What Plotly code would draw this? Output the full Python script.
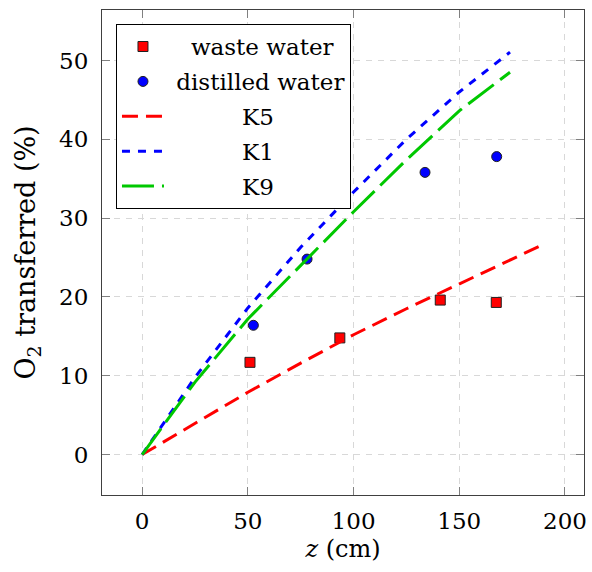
import plotly.graph_objects as go

# data
waste_z = [51.0, 93.5, 141.0, 167.5]
waste_o2 = [11.7, 14.8, 19.6, 19.3]

dist_z = [52.6, 78.0, 133.8, 167.7]
dist_o2 = [16.4, 24.8, 35.8, 37.8]

k5_z = [0, 25, 50, 75, 100, 125, 150, 175, 190]
k5_o2 = [0, 4.0, 7.9, 11.6, 15.2, 18.5, 21.7, 24.8, 26.7]

k1_z = [0, 25, 50, 75, 100, 125, 150, 174]
k1_o2 = [0, 9.8, 18.6, 26.3, 33.3, 40.0, 46.0, 51.05]

k9_z = [0, 25, 50, 75, 100, 125, 150, 174]
k9_o2 = [0, 9.2, 17.2, 24.0, 30.8, 37.4, 43.6, 48.5]

x_ticks = [0, 50, 100, 150, 200]
y_ticks = [0, 10, 20, 30, 40, 50]

RED = "#ff0000"
BLUE = "#0000ff"
GREEN = "#00c800"
NB = "\u00a0"
FONT = "DejaVu Serif"
FS = 23

fig = go.Figure()
fig.add_trace(go.Scatter(x=waste_z, y=waste_o2, mode="markers", name=NB * 3 + "waste water", legendgroup="a",
                         marker=dict(symbol="square", size=10, color=RED, line=dict(color="#202020", width=1))))
fig.add_trace(go.Scatter(x=dist_z, y=dist_o2, mode="markers", name=NB + "distilled water", legendgroup="b",
                         marker=dict(symbol="circle", size=10, color=BLUE, line=dict(color="#202020", width=1))))
fig.add_trace(go.Scatter(x=k5_z, y=k5_o2, mode="lines", name=NB * 10 + "K5", legendgroup="c",
                         line=dict(color=RED, width=3, dash="16px,8px")))
fig.add_trace(go.Scatter(x=k1_z, y=k1_o2, mode="lines", name=NB * 10 + "K1", legendgroup="d",
                         line=dict(color=BLUE, width=3, dash="8px,8px")))
fig.add_trace(go.Scatter(x=k9_z, y=k9_o2, mode="lines", name=NB * 10 + "K9", legendgroup="e",
                         line=dict(color=GREEN, width=3, dash="32px,8px")))

axis_common = dict(
    ticks="inside", ticklen=8, tickcolor="#808080", tickwidth=1,
    showline=True, linecolor="#404040", linewidth=1, mirror="ticks",
    showgrid=True, gridcolor="#d8d8d8", gridwidth=1, griddash="6px,6px",
    zeroline=False, tickfont=dict(size=FS, family=FONT),
)

fig.update_xaxes(range=[-19, 209], tickvals=x_ticks, ticklabelstandoff=5,
                 title=dict(text="<i>z</i> (cm)", font=dict(size=24, family=FONT), standoff=7), **axis_common)
fig.update_yaxes(range=[-5.13, 56.4], tickvals=y_ticks, ticklabelstandoff=8,
                 title=dict(text="O<sub>2</sub> transferred (%)", font=dict(size=27, family=FONT), standoff=15), **axis_common)

fig.update_layout(
    width=592, height=572,
    margin=dict(l=102, r=5, t=10, b=77),
    plot_bgcolor="white", paper_bgcolor="white",
    font=dict(family=FONT, size=FS, color="black"),
    legend=dict(x=0.029, y=0.971, xanchor="left", yanchor="top",
                bordercolor="black", borderwidth=1, bgcolor="white",
                itemwidth=42, font=dict(size=FS, family=FONT), tracegroupgap=2,
                traceorder="grouped"),
)

fig.write_html("out.html")
